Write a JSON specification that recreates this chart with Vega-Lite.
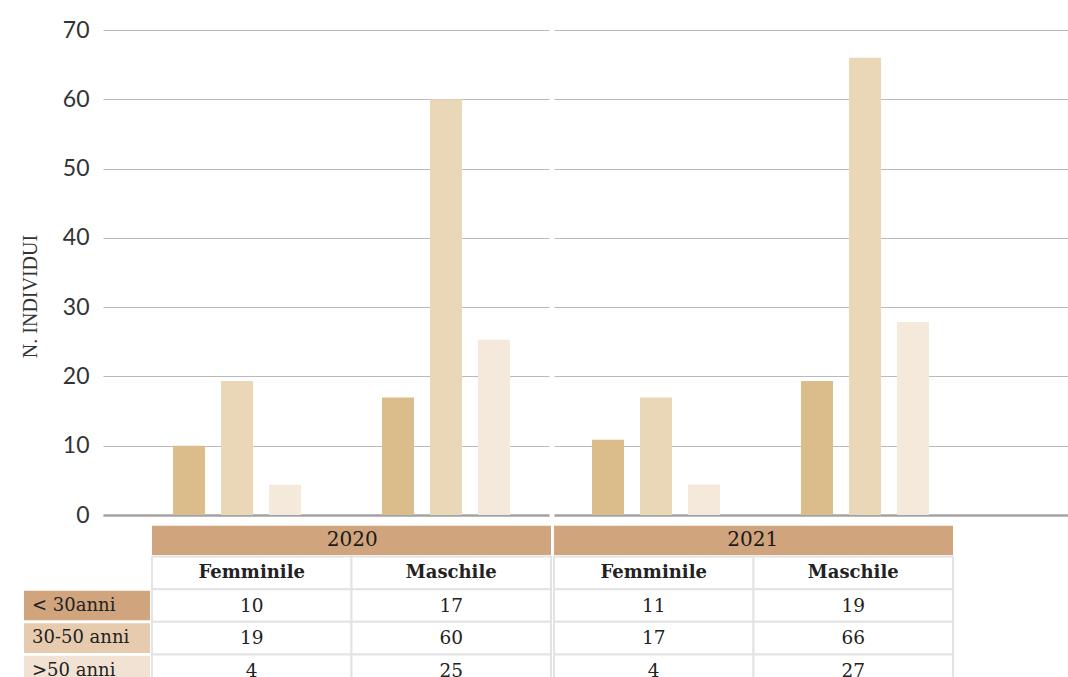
{
  "$schema": "https://vega.github.io/schema/vega-lite/v6.json",
  "background": "white",
  "padding": {"left": 20, "top": 19, "right": 0, "bottom": 0},
  "config": {"view": {"stroke": null}},
  "datasets": {
    "rows": [
      {"year": "2020", "gender": "Femminile", "age": "< 30anni", "value": 10, "shown": 10},
      {"year": "2020", "gender": "Femminile", "age": "30-50 anni", "value": 19.35, "shown": 19},
      {"year": "2020", "gender": "Femminile", "age": ">50 anni", "value": 4.35, "shown": 4},
      {"year": "2020", "gender": "Maschile", "age": "< 30anni", "value": 16.95, "shown": 17},
      {"year": "2020", "gender": "Maschile", "age": "30-50 anni", "value": 60, "shown": 60},
      {"year": "2020", "gender": "Maschile", "age": ">50 anni", "value": 25.3, "shown": 25},
      {"year": "2021", "gender": "Femminile", "age": "< 30anni", "value": 10.85, "shown": 11},
      {"year": "2021", "gender": "Femminile", "age": "30-50 anni", "value": 16.95, "shown": 17},
      {"year": "2021", "gender": "Femminile", "age": ">50 anni", "value": 4.4, "shown": 4},
      {"year": "2021", "gender": "Maschile", "age": "< 30anni", "value": 19.35, "shown": 19},
      {"year": "2021", "gender": "Maschile", "age": "30-50 anni", "value": 66, "shown": 66},
      {"year": "2021", "gender": "Maschile", "age": ">50 anni", "value": 27.85, "shown": 27}
    ]
  },
  "spacing": -3,
  "align": "none",
  "vconcat": [
    {
      "spacing": 5,
      "resolve": {"scale": {"y": "shared", "xOffset": "independent"}},
      "hconcat": [
        {
          "width": 446,
          "height": 485,
          "data": {"name": "rows"},
          "transform": [{"filter": "datum.year === '2020'"}],
          "mark": {"type": "bar"},
          "encoding": {
            "x": {"field": "gender", "type": "nominal", "sort": ["Femminile", "Maschile"],
                  "scale": {"paddingInner": 0.3876, "paddingOuter": 0.261, "align": 0.642},
                  "axis": {"title": null, "labels": false, "ticks": false, "domainColor": "#A3A3A3", "domainWidth": 2.5}},
            "xOffset": {"field": "age", "type": "nominal", "sort": ["< 30anni", "30-50 anni", ">50 anni"],
                        "scale": {"paddingInner": 0.3333, "paddingOuter": 0}},
            "y": {"field": "value", "type": "quantitative", "scale": {"domain": [0, 70], "nice": false},
                  "axis": {"title": "N. INDIVIDUI", "values": [0, 10, 20, 30, 40, 50, 60, 70], "ticks": false, "domain": false,
                           "labelPadding": 14, "labelFont": "Lato", "labelFontSize": 23, "labelColor": "#333333",
                           "titleFont": "Liberation Serif", "titleFontSize": 20, "titleFontWeight": "normal", "titleColor": "#333333",
                           "titlePadding": 22, "titleY": 266, "gridColor": "#BABABA", "gridWidth": 1.2}},
            "color": {"field": "age", "type": "nominal",
                      "scale": {"domain": ["< 30anni", "30-50 anni", ">50 anni"], "range": ["#DBBD8B", "#EAD7B7", "#F5E9DB"]},
                      "legend": null}
          }
        },
        {
          "width": 514,
          "height": 485,
          "data": {"name": "rows"},
          "transform": [{"filter": "datum.year === '2021'"}],
          "mark": {"type": "bar"},
          "encoding": {
            "x": {"field": "gender", "type": "nominal", "sort": ["Femminile", "Maschile"],
                  "scale": {"paddingInner": 0.3876, "paddingOuter": 0.4234, "align": 0.2147},
                  "axis": {"title": null, "labels": false, "ticks": false, "domainColor": "#A3A3A3", "domainWidth": 2.5}},
            "xOffset": {"field": "age", "type": "nominal", "sort": ["< 30anni", "30-50 anni", ">50 anni"],
                        "scale": {"paddingInner": 0.3333, "paddingOuter": 0}},
            "y": {"field": "value", "type": "quantitative", "scale": {"domain": [0, 70], "nice": false},
                  "axis": {"title": null, "labels": false, "values": [0, 10, 20, 30, 40, 50, 60, 70], "ticks": false, "domain": false,
                           "gridColor": "#BABABA", "gridWidth": 1.2}},
            "color": {"field": "age", "type": "nominal",
                      "scale": {"domain": ["< 30anni", "30-50 anni", ">50 anni"], "range": ["#DBBD8B", "#EAD7B7", "#F5E9DB"]},
                      "legend": null}
          }
        }
      ]
    },
    {
      "width": 850,
      "height": 163,
      "data": {"name": "rows"},
      "resolve": {"scale": {"x": "independent"}},
      "encoding": {
        "y": {"field": "age", "type": "nominal",
              "scale": {"domain": ["year", "gender", "< 30anni", "30-50 anni", ">50 anni"], "paddingInner": 0, "paddingOuter": 0},
              "axis": null}
      },
      "layer": [
        {
          "transform": [{"filter": "datum.year === '2020' && datum.gender === 'Femminile'"}],
          "mark": {"type": "rect", "height": {"band": 0.91}},
          "encoding": {
            "x": {"field": "year", "type": "nominal", "scale": {"range": [-79, 47], "paddingInner": 0, "paddingOuter": 0}, "axis": null},
            "fill": {"field": "age", "type": "nominal",
                     "scale": {"domain": ["< 30anni", "30-50 anni", ">50 anni"], "range": ["#D0A47C", "#E6CBAF", "#F2E2D4"]},
                     "legend": null}
          }
        },
        {
          "transform": [{"filter": "datum.year === '2020' && datum.gender === 'Femminile'"}],
          "mark": {"type": "text", "align": "left", "dx": 8, "font": "DejaVu Serif", "fontSize": 18, "color": "#222222"},
          "encoding": {
            "x": {"field": "year", "type": "nominal", "scale": {"range": [-207, 49], "paddingInner": 0, "paddingOuter": 0}, "axis": null},
            "text": {"field": "age"}
          }
        },
        {
          "transform": [{"filter": "datum.age === '< 30anni' && datum.gender === 'Femminile'"}],
          "mark": {"type": "rect", "color": "#D0A47C", "height": {"band": 0.9}},
          "encoding": {
            "x": {"field": "year", "type": "nominal", "scale": {"domain": ["2020", "2021"], "range": [49, 850], "paddingInner": 0.0075, "paddingOuter": 0}, "axis": null},
            "y": {"datum": "year"}
          }
        },
        {
          "transform": [{"filter": "datum.age === '< 30anni' && datum.gender === 'Femminile'"}],
          "mark": {"type": "text", "font": "DejaVu Serif", "fontSize": 20, "color": "#1A1A1A"},
          "encoding": {
            "x": {"field": "year", "type": "nominal", "scale": {"domain": ["2020", "2021"], "range": [49, 850], "paddingInner": 0.0075, "paddingOuter": 0}, "axis": null},
            "y": {"datum": "year"},
            "text": {"field": "year"}
          }
        },
        {
          "transform": [{"filter": "datum.age === '< 30anni'"}],
          "mark": {"type": "rect", "fill": "white", "stroke": "#E3E3E3", "strokeWidth": 2},
          "encoding": {
            "x": {"field": "year", "type": "nominal", "scale": {"domain": ["2020", "2021"], "range": [49, 850], "paddingInner": 0.0075, "paddingOuter": 0}, "axis": null},
            "y": {"datum": "gender"},
            "xOffset": {"field": "gender", "type": "nominal", "scale": {"paddingInner": 0, "paddingOuter": 0}}
          }
        },
        {
          "transform": [{"filter": "datum.age === '< 30anni'"}],
          "mark": {"type": "text", "font": "DejaVu Serif", "fontSize": 18, "fontWeight": "bold", "color": "#222222"},
          "encoding": {
            "x": {"field": "year", "type": "nominal", "scale": {"domain": ["2020", "2021"], "range": [49, 850], "paddingInner": 0.0075, "paddingOuter": 0}, "axis": null},
            "y": {"datum": "gender"},
            "xOffset": {"field": "gender", "type": "nominal"},
            "text": {"field": "gender"}
          }
        },
        {
          "mark": {"type": "rect", "fill": "white", "stroke": "#E3E3E3", "strokeWidth": 2},
          "encoding": {
            "x": {"field": "year", "type": "nominal", "scale": {"domain": ["2020", "2021"], "range": [49, 850], "paddingInner": 0.0075, "paddingOuter": 0}, "axis": null},
            "xOffset": {"field": "gender", "type": "nominal"}
          }
        },
        {
          "mark": {"type": "text", "font": "DejaVu Serif", "fontSize": 18.5, "color": "#222222"},
          "encoding": {
            "x": {"field": "year", "type": "nominal", "scale": {"domain": ["2020", "2021"], "range": [49, 850], "paddingInner": 0.0075, "paddingOuter": 0}, "axis": null},
            "xOffset": {"field": "gender", "type": "nominal"},
            "text": {"field": "shown"}
          }
        }
      ]
    }
  ]
}
